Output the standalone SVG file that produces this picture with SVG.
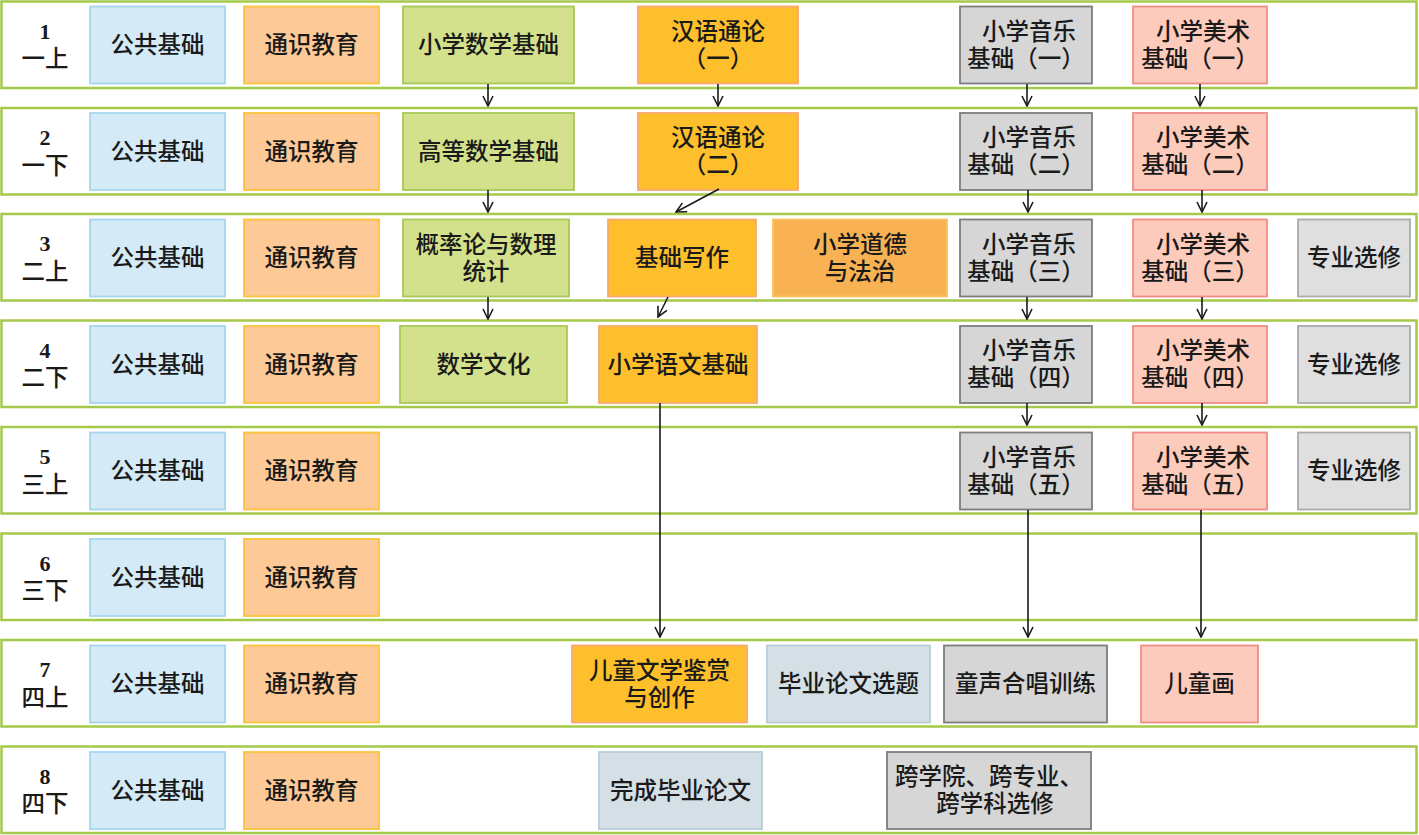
<svg xmlns="http://www.w3.org/2000/svg" width="1419" height="835" viewBox="0 0 1419 835">
<style>
.row{fill:#fff;stroke:#a5c94a;stroke-width:2.5}
.t{font-family:"Liberation Sans","Noto Sans CJK SC",sans-serif;font-size:23.5px;font-weight:500;fill:#1a1a1a;text-anchor:middle}
.num{font-family:"Liberation Serif",serif;font-size:22px;font-weight:bold;fill:#1a1a1a;text-anchor:middle}
.pub{fill:#d4eaf6;stroke:#a6d6ef;stroke-width:1.8}
.gen{fill:#fdc996;stroke:#fbc43a;stroke-width:1.8}
.grn{fill:#d3e18c;stroke:#a7c956;stroke-width:1.8}
.chi{fill:#fdc02c;stroke:#f8a970;stroke-width:1.8}
.mor{fill:#f9b253;stroke:#fbc45a;stroke-width:1.8}
.mus{fill:#d6d6d6;stroke:#7d7d7d;stroke-width:1.8}
.art{fill:#fdcbbb;stroke:#f08c86;stroke-width:1.8}
.ele{fill:#dfdfdf;stroke:#ababab;stroke-width:1.8}
.the{fill:#d5dfe6;stroke:#b8ccd8;stroke-width:1.8}
.arr{stroke:#1a1a1a;stroke-width:1.6;fill:none;marker-end:url(#ah)}
</style>
<defs>
<marker id="ah" viewBox="0 0 12 12" refX="11" refY="6" markerWidth="12" markerHeight="12" markerUnits="userSpaceOnUse" orient="auto">
<path d="M1,1 L11,6 L1,11" fill="none" stroke="#1a1a1a" stroke-width="1.6"/>
</marker>
</defs>

<g id="rows">
<rect class="row" x="1.5" y="1.5" width="1415" height="86.5"/>
<rect class="row" x="1.5" y="108" width="1415" height="86.5"/>
<rect class="row" x="1.5" y="214" width="1415" height="86.5"/>
<rect class="row" x="1.5" y="320.5" width="1415" height="86.5"/>
<rect class="row" x="1.5" y="427" width="1415" height="86.5"/>
<rect class="row" x="1.5" y="533.5" width="1415" height="86.5"/>
<rect class="row" x="1.5" y="640" width="1415" height="86.5"/>
<rect class="row" x="1.5" y="746.5" width="1415" height="86.5"/>
</g>

<g id="labels">
<text class="num" x="45" y="38.5">1</text><text class="t" x="45" y="67">一上</text>
<text class="num" x="45" y="145">2</text><text class="t" x="45" y="173.5">一下</text>
<text class="num" x="45" y="251">3</text><text class="t" x="45" y="279.5">二上</text>
<text class="num" x="45" y="357.5">4</text><text class="t" x="45" y="386">二下</text>
<text class="num" x="45" y="464">5</text><text class="t" x="45" y="492.5">三上</text>
<text class="num" x="45" y="570.5">6</text><text class="t" x="45" y="599">三下</text>
<text class="num" x="45" y="677">7</text><text class="t" x="45" y="705.5">四上</text>
<text class="num" x="45" y="783.5">8</text><text class="t" x="45" y="812">四下</text>
</g>

<!-- Row 1 -->
<g id="r1-pub"><rect class="pub" x="90" y="6.5" width="135" height="77"/><text class="t" x="157.5" y="53">公共基础</text></g>
<g id="r1-gen"><rect class="gen" x="244" y="6.5" width="135" height="77"/><text class="t" x="311.5" y="53">通识教育</text></g>
<g id="r1-math"><rect class="grn" x="403" y="6.5" width="171" height="77"/><text class="t" x="488.5" y="53">小学数学基础</text></g>
<g id="r1-chn"><rect class="chi" x="638" y="6.5" width="160" height="77"/><text class="t"><tspan x="718" y="39.5">汉语通论</tspan><tspan x="718" y="66.5">（一）</tspan></text></g>
<g id="r1-mus"><rect class="mus" x="960" y="6.5" width="132" height="77"/><text class="t"><tspan x="1029" y="39.5">小学音乐</tspan><tspan x="1026" y="66.5">基础（一）</tspan></text></g>
<g id="r1-art"><rect class="art" x="1133" y="6.5" width="134" height="77"/><text class="t"><tspan x="1203" y="39.5">小学美术</tspan><tspan x="1200" y="66.5">基础（一）</tspan></text></g>

<!-- Row 2 -->
<g id="r2-pub"><rect class="pub" x="90" y="113" width="135" height="77"/><text class="t" x="157.5" y="159.5">公共基础</text></g>
<g id="r2-gen"><rect class="gen" x="244" y="113" width="135" height="77"/><text class="t" x="311.5" y="159.5">通识教育</text></g>
<g id="r2-math"><rect class="grn" x="403" y="113" width="171" height="77"/><text class="t" x="488.5" y="159.5">高等数学基础</text></g>
<g id="r2-chn"><rect class="chi" x="638" y="113" width="160" height="77"/><text class="t"><tspan x="718" y="146">汉语通论</tspan><tspan x="718" y="173">（二）</tspan></text></g>
<g id="r2-mus"><rect class="mus" x="960" y="113" width="132" height="77"/><text class="t"><tspan x="1029" y="146">小学音乐</tspan><tspan x="1026" y="173">基础（二）</tspan></text></g>
<g id="r2-art"><rect class="art" x="1133" y="113" width="134" height="77"/><text class="t"><tspan x="1203" y="146">小学美术</tspan><tspan x="1200" y="173">基础（二）</tspan></text></g>

<!-- Row 3 -->
<g id="r3-pub"><rect class="pub" x="90" y="219.5" width="135" height="77"/><text class="t" x="157.5" y="266">公共基础</text></g>
<g id="r3-gen"><rect class="gen" x="244" y="219.5" width="135" height="77"/><text class="t" x="311.5" y="266">通识教育</text></g>
<g id="r3-prob"><rect class="grn" x="403" y="219.5" width="166" height="77"/><text class="t"><tspan x="486" y="252.5">概率论与数理</tspan><tspan x="486" y="279.5">统计</tspan></text></g>
<g id="r3-write"><rect class="chi" x="608" y="219.5" width="148" height="77"/><text class="t" x="682" y="266">基础写作</text></g>
<g id="r3-moral"><rect class="mor" x="773" y="219.5" width="174" height="77"/><text class="t"><tspan x="860" y="252.5">小学道德</tspan><tspan x="860" y="279.5">与法治</tspan></text></g>
<g id="r3-mus"><rect class="mus" x="960" y="219.5" width="132" height="77"/><text class="t"><tspan x="1029" y="252.5">小学音乐</tspan><tspan x="1026" y="279.5">基础（三）</tspan></text></g>
<g id="r3-art"><rect class="art" x="1133" y="219.5" width="134" height="77"/><text class="t"><tspan x="1203" y="252.5">小学美术</tspan><tspan x="1200" y="279.5">基础（三）</tspan></text></g>
<g id="r3-ele"><rect class="ele" x="1298" y="219.5" width="112" height="77"/><text class="t" x="1354" y="266">专业选修</text></g>

<!-- Row 4 -->
<g id="r4-pub"><rect class="pub" x="90" y="326" width="135" height="77"/><text class="t" x="157.5" y="372.5">公共基础</text></g>
<g id="r4-gen"><rect class="gen" x="244" y="326" width="135" height="77"/><text class="t" x="311.5" y="372.5">通识教育</text></g>
<g id="r4-mcul"><rect class="grn" x="400" y="326" width="167" height="77"/><text class="t" x="483.5" y="372.5">数学文化</text></g>
<g id="r4-chn"><rect class="chi" x="599" y="326" width="158" height="77"/><text class="t" x="678" y="372.5">小学语文基础</text></g>
<g id="r4-mus"><rect class="mus" x="960" y="326" width="132" height="77"/><text class="t"><tspan x="1029" y="359">小学音乐</tspan><tspan x="1026" y="386">基础（四）</tspan></text></g>
<g id="r4-art"><rect class="art" x="1133" y="326" width="134" height="77"/><text class="t"><tspan x="1203" y="359">小学美术</tspan><tspan x="1200" y="386">基础（四）</tspan></text></g>
<g id="r4-ele"><rect class="ele" x="1298" y="326" width="112" height="77"/><text class="t" x="1354" y="372.5">专业选修</text></g>

<!-- Row 5 -->
<g id="r5-pub"><rect class="pub" x="90" y="432.5" width="135" height="77"/><text class="t" x="157.5" y="479">公共基础</text></g>
<g id="r5-gen"><rect class="gen" x="244" y="432.5" width="135" height="77"/><text class="t" x="311.5" y="479">通识教育</text></g>
<g id="r5-mus"><rect class="mus" x="960" y="432.5" width="132" height="77"/><text class="t"><tspan x="1029" y="465.5">小学音乐</tspan><tspan x="1026" y="492.5">基础（五）</tspan></text></g>
<g id="r5-art"><rect class="art" x="1133" y="432.5" width="134" height="77"/><text class="t"><tspan x="1203" y="465.5">小学美术</tspan><tspan x="1200" y="492.5">基础（五）</tspan></text></g>
<g id="r5-ele"><rect class="ele" x="1298" y="432.5" width="112" height="77"/><text class="t" x="1354" y="479">专业选修</text></g>

<!-- Row 6 -->
<g id="r6-pub"><rect class="pub" x="90" y="539" width="135" height="77"/><text class="t" x="157.5" y="585.5">公共基础</text></g>
<g id="r6-gen"><rect class="gen" x="244" y="539" width="135" height="77"/><text class="t" x="311.5" y="585.5">通识教育</text></g>

<!-- Row 7 -->
<g id="r7-pub"><rect class="pub" x="90" y="645.5" width="135" height="77"/><text class="t" x="157.5" y="692">公共基础</text></g>
<g id="r7-gen"><rect class="gen" x="244" y="645.5" width="135" height="77"/><text class="t" x="311.5" y="692">通识教育</text></g>
<g id="r7-lit"><rect class="chi" x="572" y="645.5" width="175" height="77"/><text class="t"><tspan x="659.5" y="678.5">儿童文学鉴赏</tspan><tspan x="659.5" y="705.5">与创作</tspan></text></g>
<g id="r7-topic"><rect class="the" x="767" y="645.5" width="163" height="77"/><text class="t" x="848.5" y="692">毕业论文选题</text></g>
<g id="r7-choir"><rect class="mus" x="944" y="645.5" width="163" height="77"/><text class="t" x="1025.5" y="692">童声合唱训练</text></g>
<g id="r7-draw"><rect class="art" x="1141" y="645.5" width="117" height="77"/><text class="t" x="1199.5" y="692">儿童画</text></g>

<!-- Row 8 -->
<g id="r8-pub"><rect class="pub" x="90" y="752" width="135" height="77"/><text class="t" x="157.5" y="798.5">公共基础</text></g>
<g id="r8-gen"><rect class="gen" x="244" y="752" width="135" height="77"/><text class="t" x="311.5" y="798.5">通识教育</text></g>
<g id="r8-thesis"><rect class="the" x="599" y="752" width="163" height="77"/><text class="t" x="680.5" y="798.5">完成毕业论文</text></g>
<g id="r8-cross"><rect class="mus" x="887" y="752" width="204" height="77"/><text class="t"><tspan x="989" y="785">跨学院、跨专业、</tspan><tspan x="995" y="812">跨学科选修</tspan></text></g>

<g id="connectors">
<line class="arr" x1="488" y1="84" x2="488" y2="106"/>
<line class="arr" x1="718" y1="84" x2="718" y2="106"/>
<line class="arr" x1="1027" y1="84" x2="1027" y2="106"/>
<line class="arr" x1="1200" y1="84" x2="1200" y2="106"/>

<line class="arr" x1="488" y1="190" x2="488" y2="212"/>
<line class="arr" x1="719" y1="189" x2="676" y2="212"/>
<line class="arr" x1="1028" y1="190" x2="1028" y2="212"/>
<line class="arr" x1="1202" y1="190" x2="1202" y2="212"/>

<line class="arr" x1="488" y1="297" x2="488" y2="319"/>
<line class="arr" x1="668" y1="297" x2="658" y2="317"/>
<line class="arr" x1="1027" y1="297" x2="1027" y2="319"/>
<line class="arr" x1="1202" y1="297" x2="1202" y2="319"/>

<line class="arr" x1="660" y1="403" x2="660" y2="637"/>
<line class="arr" x1="1027" y1="403" x2="1027" y2="425"/>
<line class="arr" x1="1202" y1="403" x2="1202" y2="425"/>

<line class="arr" x1="1028" y1="510" x2="1028" y2="637"/>
<line class="arr" x1="1201" y1="510" x2="1201" y2="637"/>
</g>
</svg>
